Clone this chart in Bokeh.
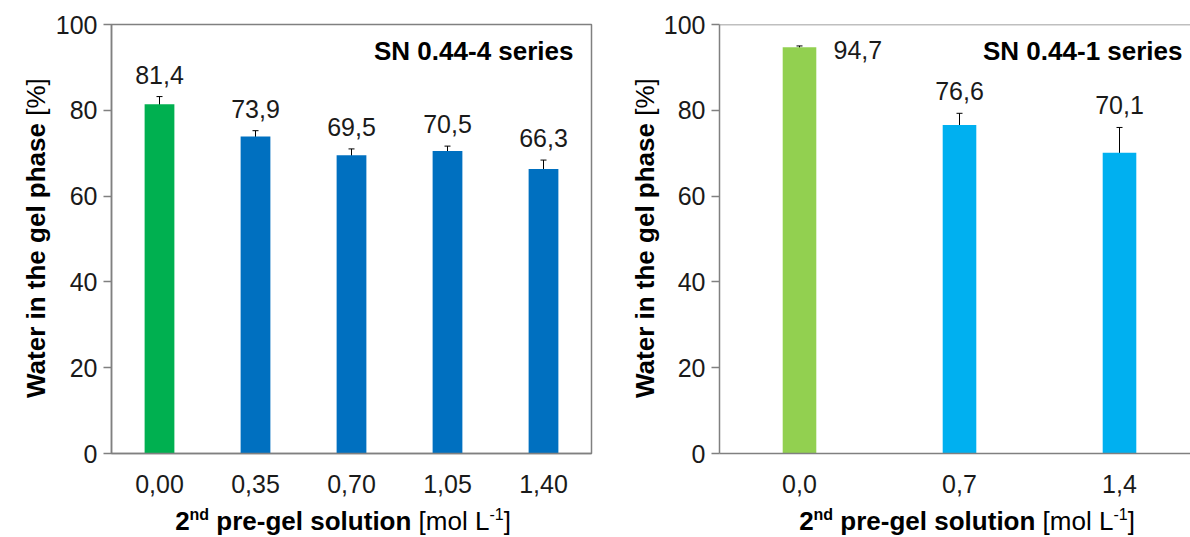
from bokeh.plotting import figure
from bokeh.models import ColumnDataSource, Whisker, TeeHead, Label, Span, FixedTicker, Range1d, Div
from bokeh.layouts import row, column
from bokeh.embed import file_html
from bokeh.resources import INLINE
from bokeh.core.properties import value

# ---------------- data ----------------
left_labels = ["0,00", "0,35", "0,70", "1,05", "1,40"]
left_values = [81.4, 73.9, 69.5, 70.5, 66.3]
left_errors = [1.8, 1.35, 1.5, 1.15, 2.1]
left_colors = ["#00B050", "#0070C0", "#0070C0", "#0070C0", "#0070C0"]
left_series = "SN 0.44-4 series"

right_labels = ["0,0", "0,7", "1,4"]
right_values = [94.7, 76.6, 70.1]
right_errors = [0.3, 2.7, 5.9]
right_colors = ["#92D050", "#00B0F0", "#00B0F0"]
right_series = "SN 0.44-1 series"

y_ticks = [0, 20, 40, 60, 80, 100]

FONT = "Liberation Sans"
AXIS_COLOR = "#808080"
TEXT_COLOR = "#1a1a1a"

TOP_H = 505
BOT_H = 32


def fmt(v):
    return f"{v:.1f}".replace(".", ",")


def make_panel(labels, values, errors, colors, series, width, border_left, border_right,
               x_end, bar_width, series_off, full_outline):
    n = len(values)
    xs = list(range(1, n + 1))
    p = figure(width=width, height=TOP_H, output_backend="svg", toolbar_location=None,
               x_range=Range1d(0.5, x_end), y_range=Range1d(0, 100),
               min_border_left=border_left, min_border_right=border_right,
               min_border_top=24, min_border_bottom=TOP_H - 24 - 429)
    p.xgrid.visible = False
    p.ygrid.visible = False
    p.background_fill_color = "white"
    p.border_fill_color = "white"
    if full_outline:
        p.outline_line_color = AXIS_COLOR
        p.outline_line_width = 1.5
    else:
        p.outline_line_color = None
        p.add_layout(Span(location=100, dimension="width", line_color=AXIS_COLOR, line_width=1.5))

    src = ColumnDataSource(dict(
        x=xs, top=values, color=colors,
        upper=[v + e for v, e in zip(values, errors)],
        lower=[v - e for v, e in zip(values, errors)],
        txt=[fmt(v) for v in values]))
    p.vbar(x="x", top="top", width=bar_width, bottom=0, fill_color="color", line_color=None,
           source=src)
    p.add_layout(Whisker(source=src, base="x", upper="upper", lower="lower",
                         line_color="black", line_width=1,
                         upper_head=TeeHead(size=6, line_color="black", line_width=1),
                         lower_head=TeeHead(size=6, line_color="black", line_width=1)))

    for ax in (p.xaxis[0], p.yaxis[0]):
        ax.axis_line_color = AXIS_COLOR
        ax.axis_line_width = 1.5
        ax.major_label_text_font = FONT
        ax.major_label_text_font_size = "25px"
        ax.major_label_text_color = TEXT_COLOR
        ax.minor_tick_line_color = None
    p.yaxis.ticker = FixedTicker(ticks=y_ticks)
    p.yaxis.major_tick_in = 0
    p.yaxis.major_tick_out = 8
    p.yaxis.major_tick_line_color = AXIS_COLOR
    p.yaxis.major_tick_line_width = 1.5
    p.yaxis.major_label_standoff = 6
    p.xaxis.ticker = FixedTicker(ticks=xs)
    p.xaxis.major_label_overrides = {x: l for x, l in zip(xs, labels)}
    p.xaxis.major_tick_line_color = None
    p.xaxis.major_tick_in = 0
    p.xaxis.major_tick_out = 0
    p.xaxis.major_label_standoff = 21

    p.add_layout(Label(x=x_end, y=100, x_offset=series_off, y_offset=-26,
                       text=series, text_align="right", text_baseline="middle",
                       text_font=FONT, text_font_size="26px", text_font_style="bold",
                       text_color="black"))
    return p, src


SUP = "font-size:16px; position:relative; top:-10px;"


def xtitle_div(width, center_x):
    pad_left = max(0, 2 * center_x - width)
    pad_right = max(0, width - 2 * center_x)
    html = (f'<div style="box-sizing:border-box; font-family:\'{FONT}\'; font-size:26px; '
            f'line-height:{BOT_H}px; color:black; white-space:nowrap; '
            f'padding-left:{pad_left}px; padding-right:{pad_right}px; '
            f'width:{width}px; text-align:center; margin:0;">'
            f'<b>2<span style="{SUP}">nd</span> pre-gel solution</b> '
            f'[mol L<span style="{SUP} font-weight:normal;">-1</span>]</div>')
    return Div(text=html, width=width, height=BOT_H, margin=0)


def ytitle_div(width, center_x):
    lw = 30
    html = (f'<div style="writing-mode:vertical-rl; transform:rotate(180deg); '
            f'height:429px; margin-top:24px; margin-left:{center_x - lw // 2}px; '
            f'width:{lw}px; line-height:{lw}px; text-align:center; '
            f'font-family:\'{FONT}\'; font-size:26px; color:black; white-space:nowrap;">'
            f'<b>Water in the gel phase</b> [%]</div>')
    return Div(text=html, width=width, height=TOP_H, margin=0)


# left panel (page x 0..600)
p1, s1 = make_panel(left_labels, left_values, left_errors, left_colors, left_series,
                    width=548, border_left=58, border_right=9, x_end=5.5, bar_width=0.31,
                    series_off=-18, full_outline=True)
p1.text(x="x", y="upper", text="txt", source=s1, text_align="center", text_baseline="middle",
        y_offset=-22, text_font=value(FONT), text_font_size="25px", text_color=TEXT_COLOR)

# right panel (page x 600..1190)
p2_width = 530
p2_border = 59
frame_w2 = p2_width - p2_border
p2, s2 = make_panel(right_labels, right_values, right_errors, right_colors, right_series,
                    width=p2_width, border_left=p2_border, border_right=0,
                    x_end=0.5 + frame_w2 / 160.0, bar_width=0.21, series_off=-8,
                    full_outline=False)
s2b = ColumnDataSource(dict(x=list(range(2, len(right_values) + 1)),
                            upper=[v + e for v, e in zip(right_values[1:], right_errors[1:])],
                            txt=[fmt(v) for v in right_values[1:]]))
p2.text(x="x", y="upper", text="txt", source=s2b, text_align="center", text_baseline="middle",
        y_offset=-22, text_font=value(FONT), text_font_size="25px", text_color=TEXT_COLOR)
s2a = ColumnDataSource(dict(x=[1], y=[right_values[0]], txt=[fmt(right_values[0])]))
p2.text(x="x", y="y", text="txt", source=s2a, text_align="left", text_baseline="middle",
        x_offset=34, y_offset=3, text_font=value(FONT), text_font_size="25px",
        text_color=TEXT_COLOR)

top = row(ytitle_div(52, 36), p1, ytitle_div(60, 45), p2, spacing=0)
bottom = row(xtitle_div(600, 343), xtitle_div(590, 367), spacing=0)
layout = column(top, bottom, spacing=0)
open("out.html", "w").write(file_html(layout, INLINE))
